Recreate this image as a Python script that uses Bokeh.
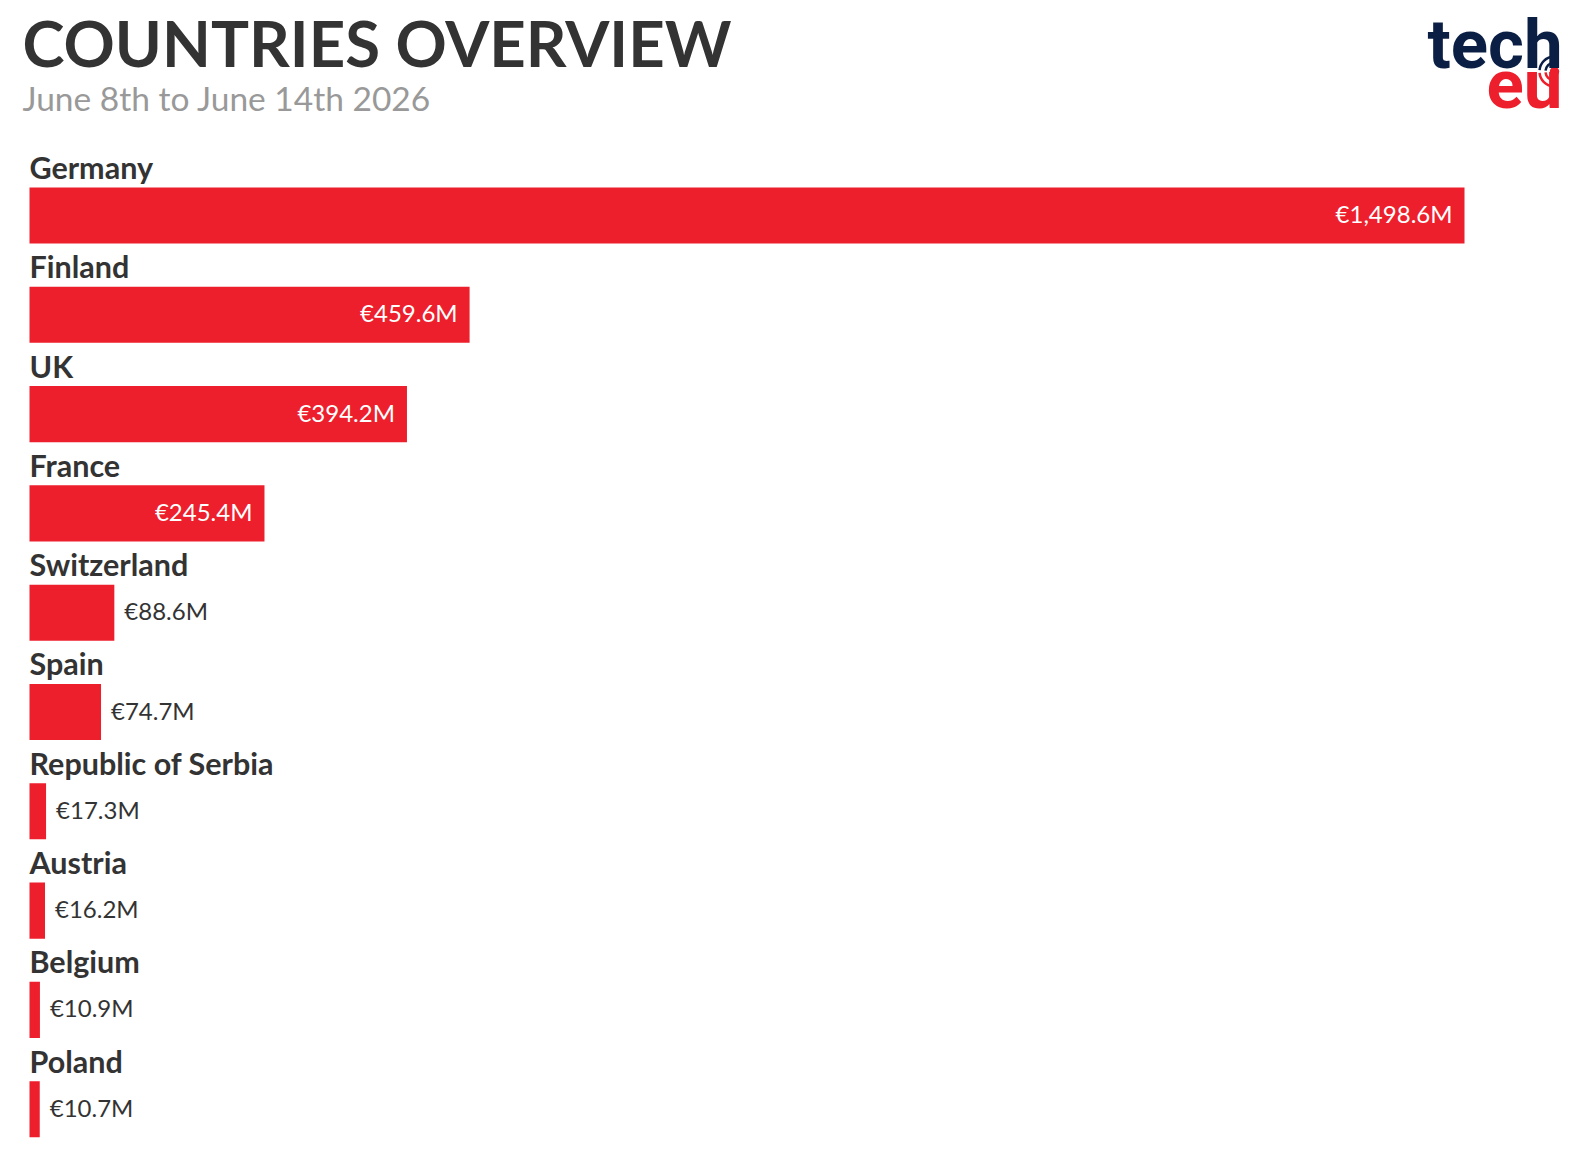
from bokeh.plotting import figure
from bokeh.models import Range1d, Label, ColumnDataSource
from bokeh.core.properties import value
from bokeh.embed import file_html
from bokeh.resources import INLINE
import math

countries = ["Germany", "Finland", "UK", "France", "Switzerland", "Spain",
             "Republic of Serbia", "Austria", "Belgium", "Poland"]
amounts = [1498.6, 459.6, 394.2, 245.4, 88.6, 74.7, 17.3, 16.2, 10.9, 10.7]
title_text = "COUNTRIES OVERVIEW"
subtitle_text = "June 8th to June 14th 2026"

W, H = 1588, 1168
RED = "#ee1f2c"
DARK = "#333333"
NAVY = "#0b1f45"
FONT = "Lato"
BL = 0.38  # svg baseline compensation (em)

left_px, right_px = 29, 1464
first_center_px, pitch_px = 215, 99.3
scale = (right_px - left_px) / max(amounts)

p = figure(width=W, height=H, output_backend="svg", toolbar_location=None,
           x_range=Range1d(-left_px / scale, (W - left_px) / scale),
           y_range=Range1d((H - first_center_px) / pitch_px, -first_center_px / pitch_px),
           min_border=0, outline_line_color=None)
p.axis.visible = False
p.grid.visible = False
p.background_fill_color = "white"
p.border_fill_color = "white"

idx = list(range(len(countries)))
labels = ["€{:,.1f}M".format(a) for a in amounts]
inside = [a * scale > 200 for a in amounts]

src = ColumnDataSource(dict(y=idx, x=amounts, name=countries, lab=labels))
p.hbar(y="y", right="x", left=0, height=0.565, source=src, fill_color=RED, line_color=None)

LFS = 30.5
p.text(x=0, y="y", text="name", source=src, text_font=value(FONT), text_font_style="bold",
       text_font_size=f"{LFS}px", text_color=DARK, text_baseline="alphabetic",
       y_offset=-37 - BL * LFS)

src_in = ColumnDataSource(dict(y=[i for i in idx if inside[i]], x=[amounts[i] for i in idx if inside[i]],
                               lab=[labels[i] for i in idx if inside[i]]))
src_out = ColumnDataSource(dict(y=[i for i in idx if not inside[i]], x=[amounts[i] for i in idx if not inside[i]],
                                lab=[labels[i] for i in idx if not inside[i]]))
p.text(x="x", y="y", text="lab", source=src_in, text_font=value(FONT), text_font_size="24px",
       text_color="white", text_align="right", text_baseline="middle", x_offset=-12, y_offset=-2)
p.text(x="x", y="y", text="lab", source=src_out, text_font=value(FONT), text_font_size="24px",
       text_color=DARK, text_align="left", text_baseline="middle", x_offset=10, y_offset=-2)


def add_label(x, baseline, text, font, size, color, bold=True):
    p.add_layout(Label(x=x, y=H - baseline + BL * size, x_units="screen", y_units="screen", text=text,
                       text_font=font, text_font_style="bold" if bold else "normal",
                       text_font_size=f"{size}px", text_color=color, text_baseline="alphabetic"))


add_label(22, 66, title_text, FONT, 63.5, DARK)
add_label(22, 110, subtitle_text, FONT, 33.5, "#999999", bold=False)
add_label(1427, 70, "tech", "Roboto", 69, NAVY)
add_label(1486, 110, "eu", "Roboto", 69, RED)

# logo signal mark (decoration)
dx = (1554 - left_px) / scale
dy = (71 - first_center_px) / pitch_px
p.scatter(x=[dx], y=[dy], size=11, marker="circle", fill_color=RED, line_color="white", line_width=1.5)
for r in (9, 15):
    p.arc(x=dx, y=dy, radius=r, radius_units="screen", start_angle=math.radians(95),
          end_angle=math.radians(175), line_color=NAVY, line_width=2.5)
    p.arc(x=dx, y=dy, radius=r, radius_units="screen", start_angle=math.radians(185),
          end_angle=math.radians(265), line_color=RED, line_width=2.5)

open("out.html", "w").write(file_html(p, INLINE))
